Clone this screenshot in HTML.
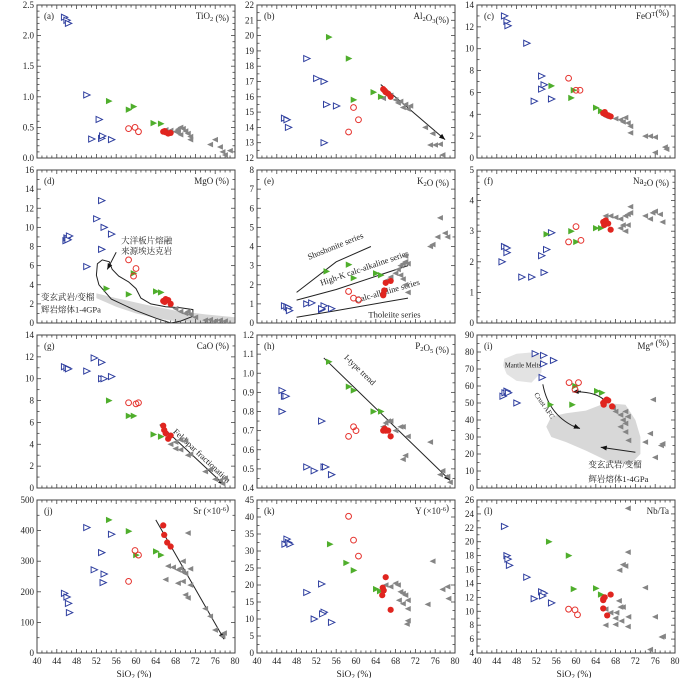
<!DOCTYPE html>
<html><head><meta charset="utf-8">
<style>
html,body{margin:0;padding:0;background:#fff;}
svg{display:block;font-family:"Liberation Serif","Noto Serif CJK SC","Noto Sans CJK SC",serif;}
</style></head>
<body>
<svg id="chart" width="700" height="678" viewBox="0 0 700 678" xmlns="http://www.w3.org/2000/svg"></svg>
<script>
// ---------- data (SiO2, value) ----------
const tiBlue=[[45.5,2.3],[46,2.25],[46.3,2.2],[50,1.03],[52.5,0.63],[51,0.31],[53,0.32],[53.2,0.36],[55,0.3]];
const tiGreen=[[54.5,0.93],[58.5,0.79],[59.5,0.84],[63.5,0.57],[65,0.56]];
const tiOpen=[[58.5,0.48],[59.8,0.5],[60.5,0.43]];
const tiRed=[[65.5,0.43],[66,0.42],[66.5,0.4],[67,0.41],[65.8,0.44]];
const tiGray=[[66,0.46],[67,0.45],[68,0.43],[68.5,0.47],[69,0.5],[69.5,0.48],[70,0.44],[70.5,0.4],[71,0.35],[71,0.3],[69,0.38],[68.5,0.42],[75,0.22],[76,0.3],[77,0.18],[77.5,0.1],[78,0.05],[79,0.12]];

const alBlue=[[45.5,14.6],[46,14.5],[46.3,14],[50,18.5],[52,17.2],[53.5,17],[54,15.5],[56,15.4],[53.5,13]];
const alGreen=[[54.5,19.9],[58.5,18.5],[59.5,15.8],[63.5,16.3],[65,16]];
const alOpen=[[58.5,13.7],[59.5,15.3],[60.5,14.5]];
const alRed=[[65.5,16.5],[66,16.3],[66.5,16.2],[67,16],[65.8,16.4]];
const alGray=[[65.5,15.9],[67,16.1],[68,15.8],[68.5,15.6],[69,15.7],[70,15.5],[70.5,15.2],[71,15.4],[69.5,15.3],[74,14],[75.5,13.6],[75,12.85],[76,12.85],[77,12.9],[77.5,12.2]];

const feBlue=[[45.5,13],[46,12.5],[46.2,12.1],[50,10.5],[53,7.5],[53.5,6.7],[53,6.3],[51.5,5.2],[55,5.4]];
const feGreen=[[55,6.6],[59.5,6.2],[59,5.5],[64,4.6],[65,4.3]];
const feOpen=[[58.5,7.3],[60,6.2],[60.8,6.2]];
const feRed=[[65.5,4.1],[66,4],[66.5,3.9],[67,3.8],[65.8,4.2]];
const feGray=[[66,3.8],[68,3.6],[69,3.5],[69.5,3.3],[70,3.7],[70.5,3.2],[71,2.9],[71,2.3],[74,2],[75,2],[76,1.9],[76,0.5],[78,1],[78.3,0.8]];

const mgBlue=[[45.8,8.6],[46,8.9],[46.5,9.1],[46.2,8.7],[50,5.9],[52,10.9],[53,12.8],[53,7.7],[53.5,10],[55,9.3]];
const mgGreen=[[54,3.6],[58.5,3.0],[59.5,5.2],[64,3.3],[65,3.2]];
const mgOpen=[[58.5,6.6],[59.5,4.9],[60,5.7]];
const mgRed=[[65.5,2.3],[66,2.5],[66.5,2.4],[67,2.0],[65.8,2.2]];
const mgGray=[[68,1.5],[69,1.2],[70,1.0],[70.5,1.2],[71,0.9],[72,0.6],[74,0.3],[75,0.35],[76,0.2],[77,0.3],[78,0.2]];

const kBlue=[[45.5,0.9],[46,0.85],[46.3,0.8],[46.5,0.65],[50,1.0],[51,1.05],[53,0.7],[53.5,0.9],[55,0.75],[53,0.75]];
const kGreen=[[54,2.7],[58.5,3.05],[59.5,2.35],[64,2.6],[65,2.5]];
const kOpen=[[58.5,1.65],[59.5,1.3],[60.5,1.2]];
const kRed=[[65.5,1.5],[65.7,1.7],[66,2.1],[67,2.2],[65.5,1.45]];
const kGray=[[66,2.2],[67,2.4],[68,2.6],[68.5,2.8],[69,3.0],[69.5,3.1],[70,3.2],[70.5,3.1],[69,2.5],[70,2.0],[70.5,1.6],[75,4.0],[75.5,4.1],[76.5,4.5],[77,5.5],[78,4.7],[78.5,4.5],[69.5,2.3],[70,3.5]];

const naBlue=[[45.5,2.5],[46,2.45],[46,2.3],[45,2.0],[49,1.5],[51,1.5],[53,2.2],[54,2.4],[53.5,1.65],[55,2.95]];
const naGreen=[[54,2.9],[59,3.0],[60,2.65],[64,3.1],[65,3.1]];
const naOpen=[[58.5,2.65],[60,3.15],[61,2.7]];
const naRed=[[65.5,3.3],[65.7,3.2],[66,3.35],[66.5,3.25],[67,3.05]];
const naGray=[[66,3.5],[67,3.5],[68,3.45],[69,3.4],[69.5,3.2],[70,3.5],[70.5,3.55],[71,3.6],[71,3.8],[70,3.0],[69,3.1],[74,3.5],[75,3.4],[75.5,3.6],[76,3.65],[77,3.55],[77.5,3.3],[70.5,3.2]];

const caBlue=[[45.5,11.1],[46,11.0],[46.3,10.9],[50,10.7],[51.5,11.9],[53,11.5],[53,10],[53.5,10],[55,10.2]];
const caGreen=[[54.5,8],[58.5,6.6],[59.5,6.6],[63.5,4.9],[65,4.7]];
const caOpen=[[58.5,7.8],[60,7.7],[60.5,7.8]];
const caRed=[[65.5,5.7],[65.7,5.3],[66,5],[66.5,4.5],[67,4.8]];
const caGray=[[67,4],[68,4.2],[69,4.4],[70,4.3],[68,3.6],[69,3.5],[70.5,3.0],[71,3.1],[74,1.5],[75,1.7],[76,0.8],[77,0.7],[78,0.9],[77.5,0.4]];

const pBlue=[[45,0.91],[45.5,0.88],[45.8,0.88],[45,0.8],[50,0.51],[51.5,0.49],[53,0.75],[53.5,0.51],[53.8,0.51],[55,0.47]];
const pGreen=[[54.5,1.06],[58.5,0.93],[59.5,0.91],[63.5,0.80],[65,0.8]];
const pOpen=[[58.5,0.67],[59.5,0.72],[60,0.70]];
const pRed=[[65.5,0.7],[66,0.7],[66.5,0.7],[67,0.67],[65.8,0.71]];
const pGray=[[66,0.74],[66.5,0.75],[67,0.75],[68,0.7],[69,0.72],[69.5,0.72],[70.5,0.67],[65.5,0.72],[70,0.57],[69.5,0.55],[75,0.64],[77.5,0.49],[78.5,0.46],[79,0.43],[77,0.47]];

const mgnBlue=[[45.2,54],[45.6,56],[46,57],[46.3,56],[48,50],[51.7,79],[53.4,78],[53.1,65],[53.4,73],[55.4,75]];
const mgnGreen=[[54.8,49],[59.2,49],[59.8,60],[64.2,57],[65.2,56]];
const mgnOpen=[[58.6,62],[59.8,58],[60.5,62]];
const mgnRed=[[65.5,50],[65.8,51],[66.2,52],[66.5,51.5],[65.6,49],[67.3,48]];
const mgnGray=[[67.5,47],[68,45],[69,43],[70,45],[69.5,40],[70.5,42],[70,38],[69,36],[70,33],[70.6,28],[74,27],[75,32],[75.6,52],[76,18],[77.2,25],[77.5,26]];

const srBlue=[[45.5,195],[46,183],[46.3,162],[46.5,132],[50,410],[51.5,272],[53,328],[53.3,230],[53.5,258],[55,388]];
const srGreen=[[54.5,435],[58.5,398],[60,320],[64,332],[65,320]];
const srOpen=[[58.5,234],[59.8,335],[60.5,320]];
const srRed=[[65.5,417],[65.7,386],[66.3,361],[67,348]];
const srGray=[[66,240],[66.5,284],[67.5,280],[68.5,272],[69,277],[69.5,265],[70,260],[69.5,300],[70.5,392],[71,275],[71,222],[68.5,228],[69.5,234],[70,190],[70.5,180],[74,145],[75,120],[76,75],[77.5,55],[77.8,65]];

const yBlue=[[45.6,32],[46,33.5],[46.3,32.5],[46.6,32],[50,17.8],[53,20.3],[51.5,10],[53.5,12],[53.2,11.5],[55,9]];
const yGreen=[[54.7,32],[58,26.5],[59.5,24.3],[64,18.8],[64.8,18.2]];
const yOpen=[[58.5,40.2],[59.5,33.2],[60.5,28.5]];
const yRed=[[66,22.3],[65.4,19.2],[65.6,18.4],[65.3,17],[67,12.7]];
const yGray=[[66,20],[67,19.5],[68,20.5],[68.5,20],[69,18],[69.5,17.5],[70,17],[68.7,15.5],[69.5,14.5],[70.5,15.5],[70.5,13],[70.5,9.5],[70.3,8.5],[74.5,14.3],[75.5,27],[77.5,18.7],[78.5,19.5],[78.7,16]];

const nbBlue=[[45.5,22.2],[46,18],[46.2,17.5],[46.5,16.6],[50,14.9],[51.5,11.8],[53,12.8],[53.5,12.6],[53.2,12.2],[55,11.2]];
const nbGreen=[[54.5,20],[58.5,18],[59.5,13.2],[64,13.3],[65,12.4]];
const nbOpen=[[58.5,10.3],[59.8,10.2],[60.3,9.5]];
const nbRed=[[65.5,11.8],[65.5,11.6],[65.8,12],[67,12.4],[65.5,10.4],[66.3,9.4]];
const nbGray=[[66,10.3],[66,8],[67,9.8],[68,9],[68.2,9.8],[68,8.1],[68.7,11.5],[69,10.6],[69.5,10.6],[69.2,8.6],[70,16.5],[69.5,16.7],[68.8,15.9],[70.5,18.5],[70.5,24.8],[70.6,9.2],[70.5,7.8],[74,13.4],[75,4.5],[76,9.2],[77.3,6.3],[77.6,6.4]];

const xTickLabels=[40,44,48,52,56,60,64,68,72,76,80];

// ---------- layout ----------
const NS="http://www.w3.org/2000/svg";
const svg=document.getElementById('chart');
const COLX=[37,257,477], ROWY=[5,170,335,500], PW=198, PH=153;
function el(tag,attrs,parent){const e=document.createElementNS(NS,tag);for(const k in attrs)e.setAttribute(k,attrs[k]);(parent||svg).appendChild(e);return e;}

const panels=[
 {id:'a',col:0,row:0,ymin:0,ymax:2.5,maj:0.5,min:0.1,dec:1,name:['TiO','2',' (%)'],blue:tiBlue,green:tiGreen,open:tiOpen,red:tiRed,gray:tiGray},
 {id:'b',col:1,row:0,ymin:12,ymax:22,maj:1,min:0.5,dec:0,name:['Al','2','O','3','(%)'],blue:alBlue,green:alGreen,open:alOpen,red:alRed,gray:alGray},
 {id:'c',col:2,row:0,ymin:0,ymax:14,maj:2,min:1,dec:0,name:['FeO','T','(%)'],sup:true,blue:feBlue,green:feGreen,open:feOpen,red:feRed,gray:feGray},
 {id:'d',col:0,row:1,ymin:0,ymax:16,maj:2,min:1,dec:0,name:['MgO (%)'],blue:mgBlue,green:mgGreen,open:mgOpen,red:mgRed,gray:mgGray},
 {id:'e',col:1,row:1,ymin:0,ymax:8,maj:1,min:0.5,dec:0,name:['K','2','O (%)'],blue:kBlue,green:kGreen,open:kOpen,red:kRed,gray:kGray},
 {id:'f',col:2,row:1,ymin:0,ymax:5,maj:1,min:0.2,dec:0,name:['Na','2','O (%)'],blue:naBlue,green:naGreen,open:naOpen,red:naRed,gray:naGray},
 {id:'g',col:0,row:2,ymin:0,ymax:14,maj:2,min:1,dec:0,name:['CaO (%)'],blue:caBlue,green:caGreen,open:caOpen,red:caRed,gray:caGray},
 {id:'h',col:1,row:2,ymin:0.4,ymax:1.2,maj:0.1,min:0.05,dec:1,name:['P','2','O','5',' (%)'],blue:pBlue,green:pGreen,open:pOpen,red:pRed,gray:pGray},
 {id:'i',col:2,row:2,ymin:0,ymax:90,maj:10,min:5,dec:0,name:['Mg','#',' (%)'],sup:true,blue:mgnBlue,green:mgnGreen,open:mgnOpen,red:mgnRed,gray:mgnGray},
 {id:'j',col:0,row:3,ymin:0,ymax:500,maj:100,min:50,dec:0,name:['Sr (×10','-6',')'],sup:true,blue:srBlue,green:srGreen,open:srOpen,red:srRed,gray:srGray},
 {id:'k',col:1,row:3,ymin:0,ymax:45,maj:5,min:2.5,dec:0,name:['Y (×10','-6',')'],sup:true,blue:yBlue,green:yGreen,open:yOpen,red:yRed,gray:yGray},
 {id:'l',col:2,row:3,ymin:4,ymax:26,maj:2,min:1,dec:0,name:['Nb/Ta'],blue:nbBlue,green:nbGreen,open:nbOpen,red:nbRed,gray:nbGray},
];

function mk(p){
 const x0=COLX[p.col], y0=ROWY[p.row];
 p.sx=v=>x0+(v-40)/40*PW;
 p.sy=v=>y0+PH-(v-p.ymin)/(p.ymax-p.ymin)*PH;
 return p;
}
panels.forEach(mk);

function pathFrom(p,pts,close){return pts.map((q,i)=>(i?'L':'M')+p.sx(q[0]).toFixed(1)+' '+p.sy(q[1]).toFixed(1)).join(' ')+(close?' Z':'');}
function arrow(p,g,a,b,name){
 const x1=p.sx(a[0]),y1=p.sy(a[1]),x2=p.sx(b[0]),y2=p.sy(b[1]);
 const ln=el('line',{x1,y1,x2,y2,stroke:'#222','stroke-width':1},g);
 
 
 const ang=Math.atan2(y2-y1,x2-x1),L=6,w=2.5;
 const hx=x2-L*Math.cos(ang),hy=y2-L*Math.sin(ang);
 const hd=el('polygon',{points:`${x2},${y2} ${hx+w*Math.sin(ang)},${hy-w*Math.cos(ang)} ${hx-w*Math.sin(ang)},${hy+w*Math.cos(ang)}`,fill:'#111'},g);
 
 
}
function txt(g,x,y,s,opt){
 const t=el('text',Object.assign({x,y,'font-size':9,fill:'#222'},opt||{}),g);
 t.textContent=s;return t;
}

panels.forEach(p=>{
 const x0=COLX[p.col], y0=ROWY[p.row];
 const g=el('g',{});
 
 

 if(p.id==='d'){
  const band=el('path',{d:pathFrom(p,[[52,3.1],[56,2.6],[62,1.9],[68,1.3],[74,0.9],[80,0.6],[80,0.1],[74,0.05],[68,0.2],[64,0.5],[60,1.0],[56,1.7],[52,2.6]],true),fill:'#d6d6d6'},g);
  
  
  const out=el('path',{d:pathFrom(p,[[53.2,6.6],[52.2,6.2],[52,5],[52.5,4],[55,2.5],[60,1.3],[64,0.5],[67,0],[69,0.2],[71.5,0.7],[71.5,1.4],[69,1.6],[66,1.7],[63,2.0],[61,2.6],[60,3.6],[58.5,4.3],[56.5,4.9],[55.2,5.6],[54.6,6.4]],true),fill:'none',stroke:'#222','stroke-width':1},g);
  
  
  arrow(p,g,[56,7.4],[54.2,5.6],'adakite-label-arrow');
  const t1=txt(g,p.sx(57),p.sy(8.3),'大洋板片熔融',{'font-size':8.5});
  
  txt(g,p.sx(57),p.sy(7.2),'来源埃达克岩',{'font-size':8.5});
  const t2=txt(g,p.sx(40.8),p.sy(2.4),'变玄武岩/变榴',{'font-size':8.5});
  
  txt(g,p.sx(40.8),p.sy(1.1),'辉岩熔体1-4GPa',{'font-size':8.5});
 }
 if(p.id==='e'){
  const lines=[[[48,1.6],[56,3.2],[63,4.0]],[[48,1.2],[56,1.75],[70.5,3.0]],[[48,0.3],[56,0.65],[70.5,1.3]]];
  const ln=['shoshonite-boundary','high-k-boundary','tholeiite-boundary'];
  lines.forEach((l,i)=>{const e=el('path',{d:pathFrom(p,l),fill:'none',stroke:'#222','stroke-width':1},g);
   });
  const labs=[['Shoshonite series',50.5,3.3,-22],['High-K calc-alkaline series',53,1.95,-19],['Calc-alkaline series',60,1.05,-16],['Tholeiite series',62.5,0.3,0]];
  labs.forEach(l=>{const t=txt(g,p.sx(l[1]),p.sy(l[2]),l[0],{'font-size':8.5,transform:`rotate(${l[3]} ${p.sx(l[1])} ${p.sy(l[2])})`});
   });
 }
 if(p.id==='i'){
  const mm=el('path',{d:pathFrom(p,[[45.5,76],[48,79],[52,80],[53.2,77],[53,68],[51,62],[48,63],[46,67],[45.3,72]],true),fill:'#e3e3e3'},g);
  
  const bl=el('path',{d:pathFrom(p,[[55,42],[58,44],[62,45.5],[66,50],[70,49],[72,40],[73,30],[73,20],[71,14],[67,15],[62,22],[58,27],[55,30],[54,36]],true),fill:'#d8d8d8'},g);
  
  const t=txt(g,p.sx(45.6),p.sy(71),'Mantle Melts',{'font-size':6.8});
  
  const c=el('path',{d:`M${p.sx(53.3)} ${p.sy(61)} Q${p.sx(54.5)} ${p.sy(42)} ${p.sx(60.5)} ${p.sy(35)}`,fill:'none',stroke:'#222'},g);
  
  arrow(p,g,[59.5,36.5],[60.8,35],'crust-afc-head');
  const t2=txt(g,p.sx(51.5),p.sy(55),'Crust AFC',{'font-size':7,transform:`rotate(55 ${p.sx(51.5)} ${p.sy(55)})`});
  
  const c2=el('path',{d:`M${p.sx(66)} ${p.sy(51)} Q${p.sx(64)} ${p.sy(57)} ${p.sx(59.5)} ${p.sy(56.5)}`,fill:'none',stroke:'#222'},g);
  
  arrow(p,g,[61,57],[59.3,56.5],'trend-arrow-head');
  arrow(p,g,[72,21],[65,24],'melt-field-arrow');
  txt(g,p.sx(62.5),p.sy(12),'变玄武岩/变榴',{'font-size':8.5});
  txt(g,p.sx(62.5),p.sy(3.5),'辉岩熔体1-4GPa',{'font-size':8.5});
 }
 if(p.id==='b') arrow(p,g,[65,16.8],[78,13.2],'fractionation-arrow');
 if(p.id==='g'){arrow(p,g,[64.8,5.8],[77.8,0.3],'feldspar-fractionation-arrow');
  const t=txt(g,p.sx(67.4),p.sy(5.1),'Feldspar fractionation',{'font-size':8.5,transform:`rotate(43 ${p.sx(67.4)} ${p.sy(5.1)})`});
  }
 if(p.id==='h'){arrow(p,g,[53.5,1.08],[79,0.44],'i-type-trend-arrow');
  const t=txt(g,p.sx(57.5),p.sy(1.08),'I-type trend',{'font-size':8.5,transform:`rotate(44 ${p.sx(57.5)} ${p.sy(1.08)})`});
  }
 if(p.id==='j') arrow(p,g,[64,435],[77.8,45],'sr-trend-arrow');

 const fr=el('rect',{x:x0,y:y0,width:PW,height:PH,fill:'none',stroke:'#444','stroke-width':1},g);
 
 for(let v=40;v<=80;v++){
  const x=p.sx(v), L=(v%4===0)?4:2.5;
  el('line',{x1:x,y1:y0+PH,x2:x,y2:y0+PH-L,stroke:'#444','stroke-width':0.8},g);
  el('line',{x1:x,y1:y0,x2:x,y2:y0+L,stroke:'#444','stroke-width':0.8},g);
 }
 if(p.row===3){
  xTickLabels.forEach(v=>{const t=txt(g,p.sx(v),y0+PH+11,String(v),{'text-anchor':'middle','font-size':9});
   });
  const xl=el('text',{x:x0+PW/2-2,y:y0+PH+24,'font-size':9.5,'text-anchor':'middle',fill:'#222'},g);
  
  xl.innerHTML='SiO<tspan font-size="7" dy="2">2</tspan><tspan dy="-2"> (%)</tspan>';
 }
 const n=Math.round((p.ymax-p.ymin)/p.min);
 for(let i=0;i<=n;i++){
  const v=p.ymin+i*p.min, y=p.sy(v);
  const isMaj=Math.abs(((v-p.ymin)/p.maj)-Math.round((v-p.ymin)/p.maj))<1e-6;
  const L=isMaj?4:2.5;
  el('line',{x1:x0,y1:y,x2:x0+L,y2:y,stroke:'#444','stroke-width':0.8},g);
  el('line',{x1:x0+PW,y1:y,x2:x0+PW-L,y2:y,stroke:'#444','stroke-width':0.8},g);
  if(isMaj){const t=txt(g,x0-3,y+3,v.toFixed(p.dec),{'text-anchor':'end','font-size':9});
   }
 }
 const pl=txt(g,x0+7,y0+14,'('+p.id+')',{'font-size':9});
 
 const nm=el('text',{x:x0+PW-6,y:y0+14,'font-size':9,'text-anchor':'end',fill:'#222'},g);
 
 let h='';
 p.name.forEach((s,i)=>{ if(i%2===1){ h+= p.sup?`<tspan font-size="6.5" dy="-3">${s}</tspan><tspan dy="3"></tspan>`:`<tspan font-size="6.5" dy="2">${s}</tspan><tspan dy="-2"></tspan>`;} else h+=`<tspan>${s}</tspan>`;});
 nm.innerHTML=h;

 p.gray.forEach(d=>{const x=p.sx(d[0]),y=p.sy(d[1]);
  const m=el('polygon',{points:`${x+2.8},${y-2.8} ${x-3.2},${y} ${x+2.8},${y+2.8}`,fill:'#858585'},g);
  });
 p.blue.forEach(d=>{const x=p.sx(d[0]),y=p.sy(d[1]);
  const m=el('polygon',{points:`${x-2.8},${y-3} ${x+3.6},${y} ${x-2.8},${y+3}`,fill:'#fff',stroke:'#2f3f9f','stroke-width':1},g);
  });
 p.green.forEach(d=>{const x=p.sx(d[0]),y=p.sy(d[1]);
  const m=el('polygon',{points:`${x-2.8},${y-3.2} ${x+3.8},${y} ${x-2.8},${y+3.2}`,fill:'#4fae2c'},g);
  });
 p.open.forEach(d=>{
  const m=el('circle',{cx:p.sx(d[0]),cy:p.sy(d[1]),r:2.9,fill:'none',stroke:'#e5322d','stroke-width':1},g);
  });
 p.red.forEach(d=>{
  const m=el('circle',{cx:p.sx(d[0]),cy:p.sy(d[1]),r:3.1,fill:'#e0251f'},g);
  });
});
</script>
</body></html>
